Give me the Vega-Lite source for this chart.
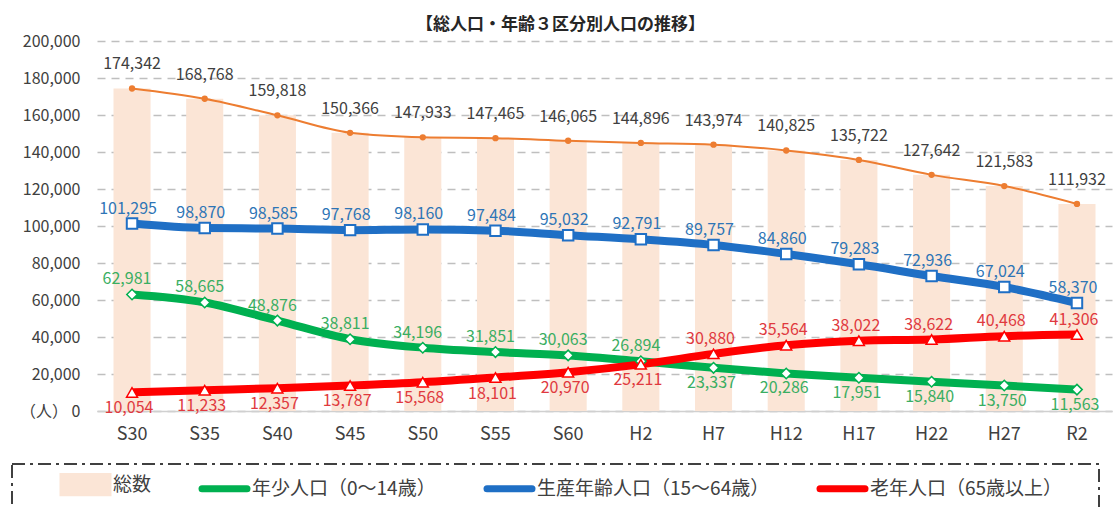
{
  "$schema": "https://vega.github.io/schema/vega-lite/v6.json",
  "width": 1015,
  "height": 370,
  "autosize": {"type": "none"},
  "padding": {"left": 97, "top": 41, "right": 1, "bottom": 96},
  "background": "white",
  "title": {
    "text": "【総人口・年齢３区分別人口の推移】",
    "font": "Noto Sans CJK JP",
    "fontSize": 17,
    "fontWeight": "bold",
    "color": "#262626",
    "anchor": "middle",
    "frame": "group",
    "dx": -44,
    "dy": 6,
    "offset": 5
  },
  "data": {
    "values": [
      {"year": "S30", "total": 174342, "young": 62981, "working": 101295, "old": 10054},
      {"year": "S35", "total": 168768, "young": 58665, "working": 98870, "old": 11233},
      {"year": "S40", "total": 159818, "young": 48876, "working": 98585, "old": 12357},
      {"year": "S45", "total": 150366, "young": 38811, "working": 97768, "old": 13787},
      {"year": "S50", "total": 147933, "young": 34196, "working": 98160, "old": 15568},
      {"year": "S55", "total": 147465, "young": 31851, "working": 97484, "old": 18101},
      {"year": "S60", "total": 146065, "young": 30063, "working": 95032, "old": 20970},
      {"year": "H2", "total": 144896, "young": 26894, "working": 92791, "old": 25211},
      {"year": "H7", "total": 143974, "young": 23337, "working": 89757, "old": 30880},
      {"year": "H12", "total": 140825, "young": 20286, "working": 84860, "old": 35564},
      {"year": "H17", "total": 135722, "young": 17951, "working": 79283, "old": 38022},
      {"year": "H22", "total": 127642, "young": 15840, "working": 72936, "old": 38622},
      {"year": "H27", "total": 121583, "young": 13750, "working": 67024, "old": 40468},
      {"year": "R2", "total": 111932, "young": 11563, "working": 58370, "old": 41306}
    ]
  },
  "encoding": {
    "x": {
      "field": "year",
      "type": "nominal",
      "sort": null,
      "scale": {"paddingInner": 0.49, "paddingOuter": 0.227},
      "axis": {
        "title": null,
        "labelAngle": 0,
        "labelFont": "Noto Sans CJK JP",
        "labelFontSize": 18,
        "labelColor": "#404040",
        "labelPadding": 14,
        "ticks": false,
        "domainColor": "#D0D0D0",
        "domainWidth": 1.5,
        "grid": false
      }
    }
  },
  "layer": [
    {
      "mark": {"type": "bar", "opacity": 1},
      "encoding": {
        "y": {
          "field": "total",
          "type": "quantitative",
          "title": null,
          "scale": {"domain": [0, 200000], "nice": false},
          "axis": {
            "values": [0, 20000, 40000, 60000, 80000, 100000, 120000, 140000, 160000, 180000, 200000],
            "tickCount": 20,
            "format": ",d",
            "labelExpr": "datum.value === 0 ? '（人） 0' : datum.label",
            "labelOverlap": false,
            "labelFont": "Noto Sans CJK JP",
            "labelFontSize": 16,
            "labelColor": "#404040",
            "labelPadding": 17,
            "domain": false,
            "ticks": false,
            "grid": true,
            "gridColor": "#BFBFBF",
            "gridDash": [8, 6],
            "gridWidth": 1.5
          }
        },
        "color": {
          "datum": "総数",
          "type": "nominal",
          "scale": {
            "domain": ["総数", "年少人口（0～14歳）", "生産年齢人口（15～64歳）", "老年人口（65歳以上）"],
            "range": ["#FBE5D6", "#00B050", "#1F6FC5", "#FF0000"]
          },
          "legend": {
            "title": "■■",
            "titleOrient": "left",
            "titleFontSize": 18,
            "titlePadding": 3.5,
            "titleColor": "transparent",
            "titleLimit": 200,
            "orient": "none",
            "direction": "horizontal",
            "legendX": -85,
            "legendY": 423,
            "padding": 8,
            "columnPadding": 36,
            "symbolSize": 324,
            "symbolOffset": 13.5,
            "labelOffset": 15,
            "labelFont": "Noto Sans CJK JP",
            "labelFontSize": 19,
            "labelColor": "#404040",
            "labelLimit": 400,
            "labelExpr": "datum.value === '老年人口（65歳以上）' ? datum.label + '⠀⠀' : datum.label",
            "strokeColor": "#404040",
            "encoding": {
              "legend": {
                "strokeDash": {"value": [13, 5, 3, 5]},
                "strokeWidth": {"value": 2}
              },
              "symbols": {
                "shape": {"value": {"expr": "datum.value === '総数' ? 'M-2.5,-0.9H2.5V0.9H-2.5Z' : 'M-2.5,0H2.5'"}},
                "fill": {"value": {"expr": "datum.value === '総数' ? '#FBE5D6' : 'transparent'"}},
                "stroke": {"value": {"expr": "datum.value === '総数' ? 'transparent' : scale('color', datum.value)"}},
                "strokeWidth": {"value": 7},
                "strokeCap": {"value": "round"},
                "opacity": {"value": 1}
              }
            }
          }
        }
      }
    },
    {
      "mark": {"type": "line", "color": "#ED7D31", "strokeWidth": 2, "interpolate": "monotone"},
      "encoding": {"y": {"field": "total", "type": "quantitative", "title": null}}
    },
    {
      "mark": {"type": "point", "shape": "circle", "filled": true, "color": "#ED7D31", "size": 40, "opacity": 1},
      "encoding": {"y": {"field": "total", "type": "quantitative", "title": null}}
    },
    {
      "mark": {"type": "line", "strokeWidth": 8, "interpolate": "monotone"},
      "encoding": {
        "y": {"field": "working", "type": "quantitative", "title": null},
        "color": {"datum": "生産年齢人口（15～64歳）", "type": "nominal"}
      }
    },
    {
      "mark": {"type": "line", "strokeWidth": 8, "interpolate": "monotone"},
      "encoding": {
        "y": {"field": "young", "type": "quantitative", "title": null},
        "color": {"datum": "年少人口（0～14歳）", "type": "nominal"}
      }
    },
    {
      "mark": {"type": "line", "strokeWidth": 8, "interpolate": "monotone"},
      "encoding": {
        "y": {"field": "old", "type": "quantitative", "title": null},
        "color": {"datum": "老年人口（65歳以上）", "type": "nominal"}
      }
    },
    {
      "mark": {"type": "point", "shape": "square", "size": 110, "fill": "white", "stroke": "#1F6FC5", "strokeWidth": 2, "opacity": 1},
      "encoding": {"y": {"field": "working", "type": "quantitative", "title": null}}
    },
    {
      "mark": {"type": "point", "shape": "diamond", "size": 110, "fill": "white", "stroke": "#00B050", "strokeWidth": 1.5, "opacity": 1},
      "encoding": {"y": {"field": "young", "type": "quantitative", "title": null}}
    },
    {
      "mark": {"type": "point", "shape": "triangle-up", "size": 120, "fill": "white", "stroke": "#FF0000", "strokeWidth": 1.5, "opacity": 1},
      "encoding": {"y": {"field": "old", "type": "quantitative", "title": null}}
    },
    {
      "mark": {"type": "text", "font": "Noto Sans CJK JP", "fontSize": 16, "color": "#404040", "dy": -24},
      "encoding": {
        "y": {"field": "total", "type": "quantitative", "title": null},
        "text": {"field": "total", "type": "quantitative", "format": ",d"}
      }
    },
    {
      "mark": {"type": "text", "font": "Noto Sans CJK JP", "fontSize": 16, "color": "#2E75B6", "dy": -15, "dx": -4},
      "encoding": {
        "y": {"field": "working", "type": "quantitative", "title": null},
        "text": {"field": "working", "type": "quantitative", "format": ",d"}
      }
    },
    {
      "transform": [{"filter": {"field": "year", "oneOf": ["S30", "S35", "S40", "S45", "S50", "S55", "S60", "H2"]}}],
      "mark": {"type": "text", "font": "Noto Sans CJK JP", "fontSize": 16, "color": "#3AAE62", "dy": -15, "dx": -5},
      "encoding": {
        "y": {"field": "young", "type": "quantitative", "title": null},
        "text": {"field": "young", "type": "quantitative", "format": ",d"}
      }
    },
    {
      "transform": [{"filter": {"field": "year", "oneOf": ["H7", "H12", "H17", "H22", "H27", "R2"]}}],
      "mark": {"type": "text", "font": "Noto Sans CJK JP", "fontSize": 16, "color": "#3AAE62", "dy": 15, "dx": -2},
      "encoding": {
        "y": {"field": "young", "type": "quantitative", "title": null},
        "text": {"field": "young", "type": "quantitative", "format": ",d"}
      }
    },
    {
      "transform": [{"filter": {"field": "year", "oneOf": ["S30", "S35", "S40", "S45", "S50", "S55", "S60", "H2"]}}],
      "mark": {"type": "text", "font": "Noto Sans CJK JP", "fontSize": 16, "color": "#E0393E", "dy": 16, "dx": -3},
      "encoding": {
        "y": {"field": "old", "type": "quantitative", "title": null},
        "text": {"field": "old", "type": "quantitative", "format": ",d"}
      }
    },
    {
      "transform": [{"filter": {"field": "year", "oneOf": ["H7", "H12", "H17", "H22", "H27", "R2"]}}],
      "mark": {"type": "text", "font": "Noto Sans CJK JP", "fontSize": 16, "color": "#E0393E", "dy": -15, "dx": -3},
      "encoding": {
        "y": {"field": "old", "type": "quantitative", "title": null},
        "text": {"field": "old", "type": "quantitative", "format": ",d"}
      }
    }
  ],
  "config": {
    "view": {"stroke": null},
    "font": "Noto Sans CJK JP"
  }
}
